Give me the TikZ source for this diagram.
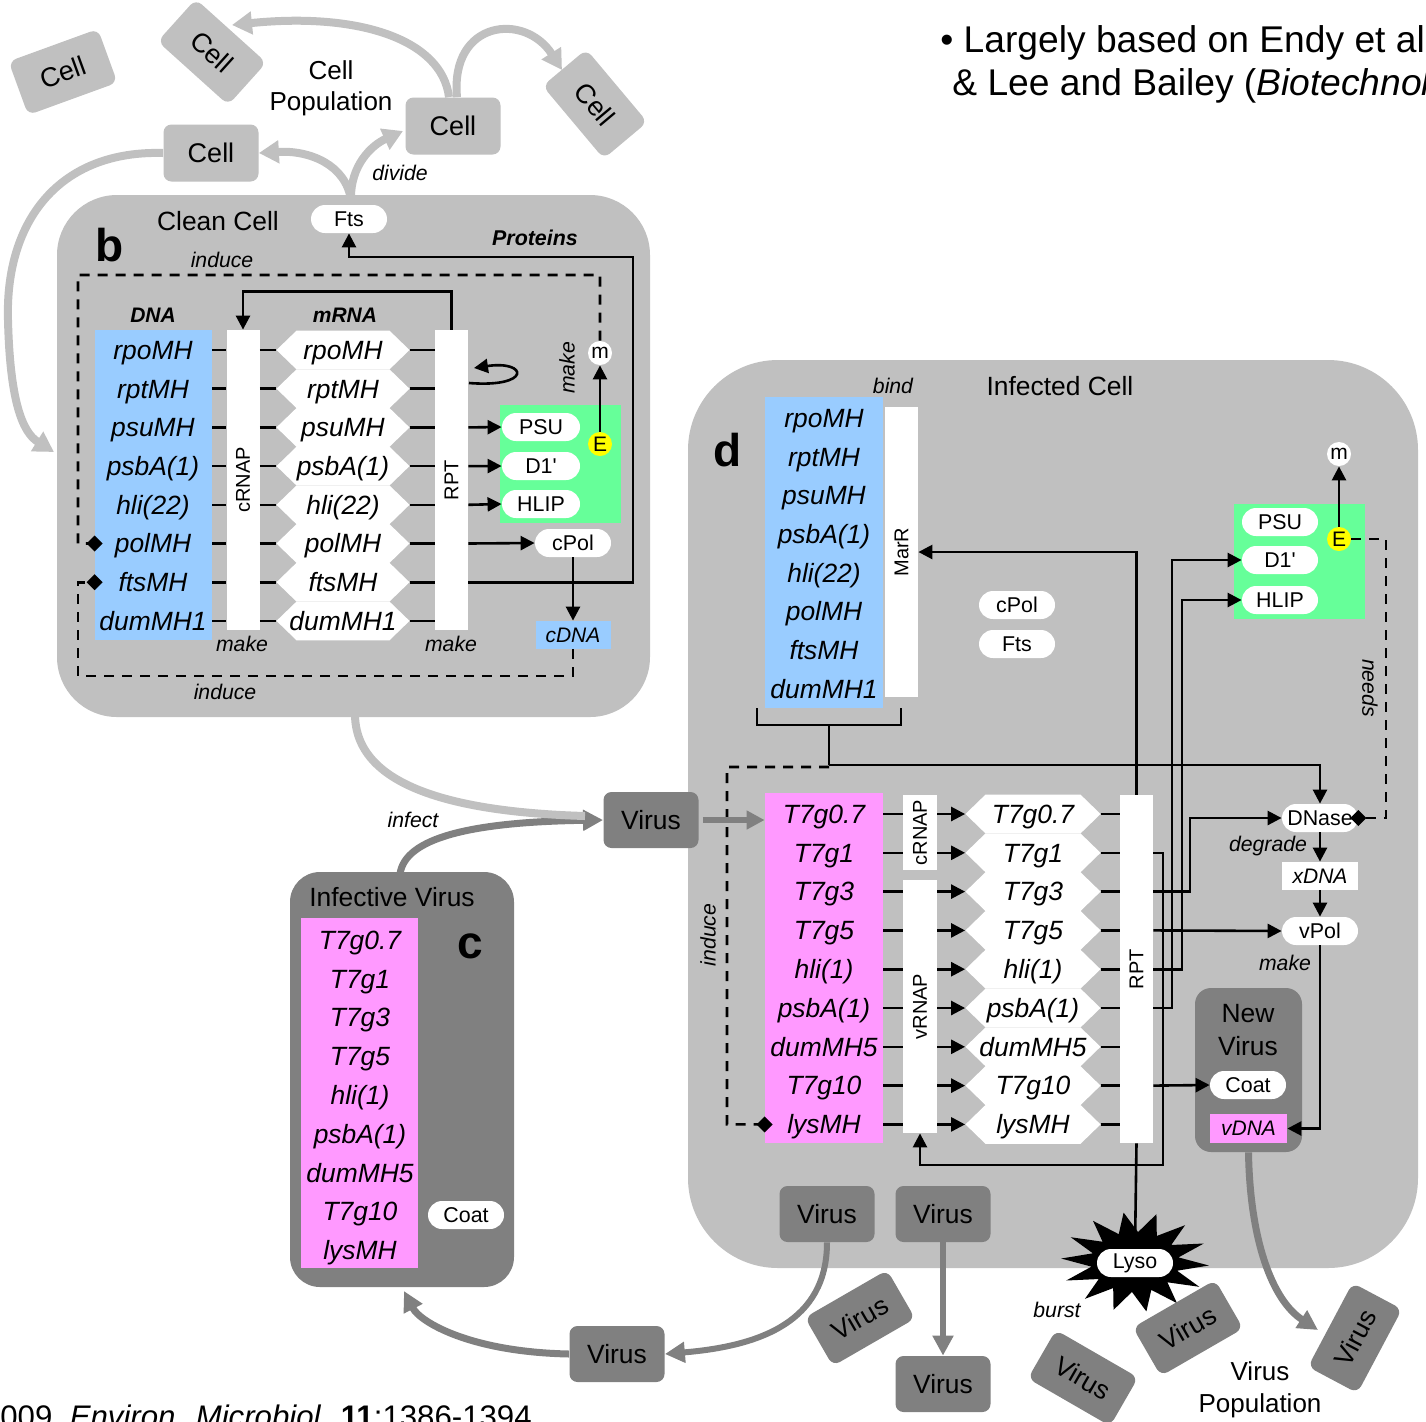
\documentclass[tikz,border=0pt]{standalone}
\usepackage{fontspec}
\setmainfont{Liberation Sans}[Ligatures=TeXOff]
\usetikzlibrary{arrows.meta,calc}
\definecolor{lg}{HTML}{C0C0C0}
\definecolor{dg}{HTML}{808080}
\definecolor{dnab}{HTML}{99CCFF}
\definecolor{pinkc}{HTML}{FF99FF}
\definecolor{grn}{HTML}{66FF99}
\definecolor{yel}{HTML}{FFFF00}
\newcommand\fsz[1]{\fontsize{#1}{15}\selectfont}
\begin{document}
\begin{tikzpicture}[x=0.5pt,y=-0.5pt,
  gene/.style={font=\fsz{13.2}\itshape, inner sep=0pt, text height=12.3pt, text depth=3pt},
  hexnode/.style={gene, minimum width=66.5pt, minimum height=19pt},
  hexnodeb/.style={gene, minimum width=67.5pt, minimum height=19pt},
  pill/.style={fill=white, rounded corners=7pt, minimum width=38pt, minimum height=14pt, inner sep=0pt, font=\fsz{10.7}},
  bar/.style={fill=white, inner sep=0pt, minimum width=16.5pt},
  barlab/.style={rotate=90, font=\fsz{10}},
  lbl/.style={font=\fsz{10.6}\itshape},
  ln/.style={line width=1.3pt},
  arr/.style={line width=1.3pt, -{Triangle[length=7pt,width=7pt]}},
  dsh/.style={line width=1.3pt, dash pattern=on 5pt off 4pt},
  dia/.style={-{Diamond[length=8pt,width=8pt]}},
  cellbox/.style={fill=lg, rounded corners=4pt, minimum width=47.5pt, minimum height=28.5pt, font=\fsz{13.5}},
  virbox/.style={fill=dg, rounded corners=4pt, minimum width=47.5pt, minimum height=28pt, font=\fsz{13.2}},
  garr/.style={line width=4pt, draw=lg, -{Triangle[length=10pt,width=11pt]}},
  darr/.style={line width=3.5pt, draw=dg, -{Triangle[length=10pt,width=10pt]}},
  big/.style={font=\fsz{23}\bfseries},
  circ/.style={circle, inner sep=0pt, minimum size=12pt, font=\fsz{10.5}},
  title/.style={font=\fsz{13.2}}
]
\useasboundingbox (0,0) rectangle (1426,1421);
\clip (0,0) rectangle (1426,1421);
\fill[white] (0,0) rectangle (1426,1421);

% ---------- containers ----------
\node[fill=lg, rounded corners=30pt, minimum width=296.5pt, minimum height=261pt, inner sep=0pt] (clean) at (353.5,456) {};
\node[fill=lg, rounded corners=45pt, minimum width=365pt, minimum height=454pt, inner sep=0pt] (infected) at (1053,814) {};
\node[fill=dg, rounded corners=15pt, minimum width=112pt, minimum height=207.5pt, inner sep=0pt] (infvir) at (402,1079.5) {};

% ---------- top: cell population ----------
\node[cellbox, rotate=20] (c1) at (63,72) {Cell};
\node[cellbox, rotate=-42] (c2) at (212,52) {Cell};
\node[cellbox, rotate=-50] (c3) at (595,104) {Cell};
\node[cellbox] (c4) at (453,126) {Cell};
\node[cellbox] (c5) at (211,153) {Cell};
\node[align=center, font=\fontsize{13}{15.5}\selectfont] (pop) at (331,88) {Cell\\Population};
\node[pill] (fts1) at (349,219) {Fts};

\coordinate (t1) at (232,25);
\coordinate (t2) at (562,70);
\coordinate (t3) at (403,131);
\coordinate (t5) at (54,452);
\coordinate (fb) at (351,200);
\draw[garr] ([xshift=-2pt]c4.north) .. controls (442,40) and (360,12) .. (t1);
\draw[garr] ([xshift=2pt]c4.north) .. controls (450,20) and (525,12) .. (t2);
\draw[garr] (fb) .. controls (350,165) and (372,145) .. (t3);
\draw[garr] (fb) .. controls (346,165) and (310,150) .. (c5.east);
\draw[garr] (c5.west) .. controls (60,150) and (5,220) .. (8,320) .. controls (10,400) and (22,432) .. (t5);
\node[lbl] (divl) at (400,173) {divide};

% ---------- clean cell ----------
\node[title] (cleanlab) at (218,221) {Clean Cell};
\node[big] (lb) at (110,245) {b};
\node[font=\fsz{10.7}\bfseries\itshape] (prot) at (535,238) {Proteins};
\node[fill=dnab, minimum width=58.5pt, minimum height=155pt, inner sep=0pt] (dna1) at (153.5,485) {};
\node[bar, minimum height=150pt] (crnap1) at (243,480) {};
\node[barlab] (crnap1l) at (crnap1) {cRNAP};
\node[bar, minimum height=150pt] (rpt1) at (451.5,480) {};
\node[barlab] (rpt1l) at (rpt1) {RPT};
\node[font=\fsz{10.5}\bfseries\itshape] (dnah) at (153,315) {DNA};
\node[font=\fsz{10.5}\bfseries\itshape] (mrnah) at (345,315) {mRNA};

\foreach \g [count=\i] in {rpoMH,rptMH,psuMH,psbA(1),hli(22),polMH,ftsMH,dumMH1} {
  \pgfmathsetmacro\yy{350+(\i-1)*38.7}
  \fill[white] (276.5,\yy) -- ++(20,-19.35) -- ++(93,0) -- ++(20,19.35) -- ++(-20,19.35) -- ++(-93,0) -- cycle;
  \node[gene] (cg\i) at (153,\yy) {\g};
  \node[hexnode] (cm\i) at (343,\yy) {\g};
  \draw[ln] (dna1.east |- cm\i) -- (crnap1.west |- cm\i);
  \draw[ln] (crnap1.east |- cm\i) -- (cm\i.west);
  \draw[ln] (cm\i.east) -- (rpt1.west |- cm\i);
}

\node[fill=grn, minimum width=60.5pt, minimum height=59pt, inner sep=0pt] (grn1) at (560.5,464) {};
\node[pill, minimum width=39pt] (psu1) at (541,427) {PSU};
\node[pill, minimum width=39pt] (d1a) at (541,466) {D1'};
\node[pill, minimum width=39pt] (hlip1) at (541,504) {HLIP};
\node[circ, fill=yel] (e1) at (600,444) {E};
\node[circ, fill=white] (m1) at (600,353) {m};
\node[pill] (cpol1) at (573,543) {cPol};
\node[fill=dnab, minimum width=37.5pt, minimum height=14pt, inner sep=0pt, font=\fsz{10.5}\itshape] (cdna1) at (573,635) {cDNA};

\draw[arr] (rpt1.east |- cm3) -- (psu1.west);
\draw[arr] (rpt1.east |- cm4) -- (d1a.west);
\draw[arr] (rpt1.east |- cm5) -- (hlip1.west);
\draw[arr] (rpt1.east |- cm6) -- (cpol1.west);
\coordinate (pc) at (633,257);
\draw[arr] (rpt1.east |- cm7) -| (pc) -| (fts1.south);
\draw[arr] (rpt1.north) -- ++(0,-38) -| (crnap1.north);
\coordinate (lp1) at (469,383);
\coordinate (lp2) at (474,368);
\draw[arr] (lp1) .. controls (532,388) and (528,360) .. (lp2);
\draw[arr] (e1.north) -- (m1.south);
\draw[arr] (cpol1.south) -- (cdna1.north);
\draw[dsh, dia] (m1.north) |- (78,275) -- (78,543.5) -- ($(dna1.west |- cg6)+(8,0)$);
\draw[dsh, dia] (cdna1.south) |- (78,676) -- (78,582.2) -- ($(dna1.west |- cg7)+(8,0)$);
\node[lbl] (mk1) at (242,644) {make};
\node[lbl] (mk2) at (451,644) {make};
\node[lbl] (ind1) at (222,260) {induce};
\node[lbl] (ind2) at (225,692) {induce};
\node[lbl, rotate=90] (mk3) at (567,368) {make};

% ---------- infected cell ----------
\node[title] (inflab) at (1060,386) {Infected Cell};
\node[lbl] (bindl) at (893,386) {bind};
\node[big] (ld) at (728,450) {d};
\node[fill=dnab, minimum width=59pt, minimum height=155.5pt, inner sep=0pt] (dna2) at (824,552.5) {};
\node[bar, minimum height=145pt] (marr) at (901.5,552) {};
\node[barlab] (marrl) at (marr) {MarR};
\foreach \g [count=\i] in {rpoMH,rptMH,psuMH,psbA(1),hli(22),polMH,ftsMH,dumMH1} {
  \pgfmathsetmacro\yy{418+(\i-1)*38.7}
  \node[gene] (ig\i) at (824,\yy) {\g};
}
\node[pill] (cpol2) at (1017,605) {cPol};
\node[pill] (fts2) at (1017,644) {Fts};
\node[fill=grn, minimum width=65.5pt, minimum height=57.5pt, inner sep=0pt] (grn2) at (1299.5,561.5) {};
\node[pill] (psu2) at (1280,522) {PSU};
\node[pill] (d12) at (1280,560) {D1'};
\node[pill] (hlip2) at (1280,600) {HLIP};
\node[circ, fill=yel] (e2) at (1339,539) {E};
\node[circ, fill=white] (m2) at (1339,454) {m};

\node[fill=pinkc, minimum width=59pt, minimum height=175pt, inner sep=0pt] (pinkb) at (824,968) {};
\node[bar, minimum width=17pt, minimum height=37.5pt] (crnap2) at (920,832.5) {};
\node[barlab] (crnap2l) at (crnap2) {cRNAP};
\node[bar, minimum width=17pt, minimum height=126.5pt] (vrnap) at (920,1006.5) {};
\node[barlab] (vrnapl) at (vrnap) {vRNAP};
\node[bar, minimum height=174pt] (rpt2) at (1136.5,969) {};
\node[barlab] (rpt2l) at (rpt2) {RPT};

\foreach \g [count=\i] in {T7g0.7,T7g1,T7g3,T7g5,hli(1),psbA(1),dumMH5,T7g10,lysMH} {
  \pgfmathsetmacro\yy{814+(\i-1)*38.8}
  \fill[white] (965.5,\yy) -- ++(20,-19.4) -- ++(95,0) -- ++(20,19.4) -- ++(-20,19.4) -- ++(-95,0) -- cycle;
  \node[gene] (vg\i) at (824,\yy) {\g};
  \node[hexnodeb] (vm\i) at (1033,\yy) {\g};
  \ifnum\i<3 \def\bb{crnap2}\else\def\bb{vrnap}\fi
  \draw[ln] (pinkb.east |- vm\i) -- (\bb.west |- vm\i);
  \draw[arr] (\bb.east |- vm\i) -- (vm\i.west);
  \draw[ln] (vm\i.east) -- (rpt2.west |- vm\i);
}

\node[pill] (dnase) at (1320,818) {DNase};
\node[fill=white, minimum width=38pt, minimum height=14pt, inner sep=0pt, font=\fsz{10.5}\itshape] (xdna) at (1320,876) {xDNA};
\node[pill] (vpol) at (1320,931) {vPol};
\node[fill=dg, rounded corners=8pt, minimum width=53.5pt, minimum height=82pt, inner sep=0pt] (newvir) at (1248.5,1070) {};
\node[align=center, font=\fontsize{13.2}{16.5}\selectfont] (newvirl) at (1248,1030) {New\\Virus};
\node[pill] (coat2) at (1248,1085) {Coat};
\node[fill=pinkc, minimum width=38.5pt, minimum height=14.5pt, inner sep=0pt, font=\fsz{10.5}\itshape] (vdna) at (1248.5,1128.5) {vDNA};

% lyso star
\fill[black] plot[samples at={0,...,27}, variable=\k] ({1135+(mod(\k,2)==0 ? 74 : 44)*cos(\k*360/28+4)}, {1262+(mod(\k,2)==0 ? 50 : 30)*sin(\k*360/28+4)}) -- cycle;
\node[pill] (lyso) at (1135,1263) {Lyso};
\node[lbl] (burstl) at (1057,1310) {burst};

\coordinate (bk1) at (757,708);
\coordinate (bk2) at (901,708);
\coordinate (st1) at (829,725);
\coordinate (st2) at (829,765);
\coordinate (st3) at (829,767);
\draw[ln] (bk1) -- (757,725) -- (901,725) -- (bk2);
\draw[ln] (st1) -- (st2);
\draw[arr] (st2) -| (dnase.north);
\draw[dsh, dia] (st3) -- (727,767) -- (727,1124.4) -- ($(pinkb.west |- vg9)+(8,0)$);
\draw[arr] (rpt2.north) |- (marr.east);
\draw[ln] (rpt2.south) -- (lyso.north);
\draw[arr] (rpt2.east |- vm2) -| (1163,1165) -| (vrnap.south);
\draw[arr] (rpt2.east |- vm3) -| (1190,818) -- (dnase.west);
\draw[arr] (rpt2.east |- vm4) -- (vpol.west);
\draw[arr] (rpt2.east |- vm5) -| (1182,600) -- (hlip2.west);
\draw[arr] (rpt2.east |- vm6) -| (1172,560) -- (d12.west);
\draw[arr] (rpt2.east |- vm8) -- (coat2.west);
\draw[arr] (e2.north) -- (m2.south);
\draw[dsh, dia] (e2.east) -| (1386,818) -- ($(dnase.east)+(-8,0)$);
\draw[arr] (dnase.south) -- (xdna.north);
\draw[arr] (xdna.south) -- (vpol.north);
\draw[arr] (vpol.south) |- (vdna.east);
\node[lbl] (degl) at (1268,846) {degrade};
\node[lbl] (mk4) at (1285,963) {make};
\node[lbl, rotate=-90] (needl) at (1370,688) {needs};
\node[lbl, rotate=90] (ind3) at (708,935) {induce};

% ---------- infective virus ----------
\node[title] (ivl) at (392,897) {Infective Virus};
\node[fill=pinkc, minimum width=58.5pt, minimum height=175pt, inner sep=0pt] (pinki) at (359.5,1093) {};
\foreach \g [count=\i] in {T7g0.7,T7g1,T7g3,T7g5,hli(1),psbA(1),dumMH5,T7g10,lysMH} {
  \node[gene] (jg\i) at (360,{940+(\i-1)*38.8}) {\g};
}
\node[big] (lc) at (470,946) {c};
\node[pill] (coat1) at (466,1215) {Coat};

% ---------- infection ----------
\node[virbox] (vin) at (651,820) {Virus};
\coordinate (ivt) at (400,874);
\coordinate (cbt) at (355,714);
\coordinate (mj) at (585,816);
\draw[darr] (ivt) .. controls (405,838) and (470,822) .. (vin.west);
\draw[line width=4pt, lg] (cbt) .. controls (355,785) and (450,812) .. (mj);
\draw[line width=3pt, dg, -{Triangle[length=9pt,width=9pt]}] ([xshift=2pt]vin.east) -- (pinkb.west |- vin);
\node[lbl] (infl) at (413,820) {infect};

% ---------- virus population ----------
\node[virbox] (v1) at (827,1214) {Virus};
\node[virbox] (v2) at (943,1214) {Virus};
\node[virbox] (v3) at (943,1384) {Virus};
\node[virbox] (v4) at (617,1354) {Virus};
\node[virbox, rotate=30] (v5) at (860,1318) {Virus};
\node[virbox, rotate=30] (v6) at (1188,1328) {Virus};
\node[virbox, rotate=-30] (v7) at (1083,1378) {Virus};
\node[virbox, rotate=62] (v8) at (1355,1338) {Virus};
\coordinate (ivb) at (404,1291);
\coordinate (v8t) at (1318,1330);
\draw[darr, line width=3pt] (v1.south) .. controls (827,1322) and (760,1346) .. (v4.east);
\draw[darr, line width=3pt] (v2.south) -- (v3.north);
\draw[darr, line width=3.5pt] (v4.west) .. controls (470,1352) and (420,1322) .. (ivb);
\draw[darr] (newvir.south) .. controls (1250,1240) and (1272,1300) .. (v8t);
\node[align=center, font=\fontsize{13}{16}\selectfont] (vpopl) at (1260,1390) {Virus\\Population};

% ---------- texts ----------
\node[anchor=base west, font=\fsz{18.6}, inner sep=0pt] (note1) at (940,52) {• Largely based on Endy et al.};
\node[anchor=base west, font=\fsz{18.6}, inner sep=0pt] (note2) at (952,95) {\& Lee and Bailey (\textit{Biotechnol.}};
\node[anchor=base west, font=\fsz{15.6}, inner sep=0pt] (cite) at (0,1427) {009 \ \textit{Environ. Microbiol.} \textbf{11}:1386-1394};
\end{tikzpicture}
\end{document}
